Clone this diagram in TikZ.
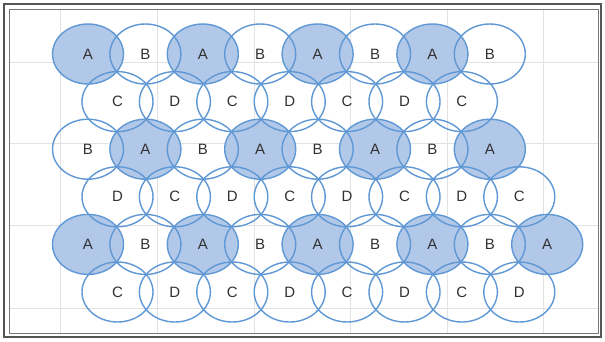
\documentclass[tikz,border=0pt]{standalone}
\usepackage{fontspec}
\setmainfont{Liberation Sans}
\usetikzlibrary{shapes.geometric}
\definecolor{cellline}{RGB}{95,152,212}
\definecolor{cellfill}{RGB}{178,200,232}
\definecolor{gridc}{RGB}{226,226,226}
\definecolor{txt}{RGB}{50,50,50}
\definecolor{frameout}{RGB}{85,85,85}
\definecolor{framein}{RGB}{120,120,120}
\begin{document}
\begin{tikzpicture}[x=1pt,y=-1pt,
  cell/.style={ellipse,draw=cellline,line width=1.4pt,minimum width=71pt,minimum height=60pt,inner sep=0pt,font=\fontsize{15}{15}\selectfont,text=txt},
  bgA/.style={fill=cellfill},
  bgB/.style={},
  bgC/.style={},
  bgD/.style={}]
\useasboundingbox (0,0) rectangle (605,341);
\fill[white] (0,0) rectangle (605,341);
% grid
\foreach \gx in {60,157,254,350,447,543} \draw[gridc,line width=0.8pt] (\gx,9) -- (\gx,333);
\foreach \gy in {62,143,225,308} \draw[gridc,line width=0.8pt] (9,\gy) -- (598,\gy);
% fills
\foreach \r/\xs/\labs in {1/88/{A,B,A,B,A,B,A,B},2/117.5/{C,D,C,D,C,D,C},3/88/{B,A,B,A,B,A,B,A},4/117.5/{D,C,D,C,D,C,D,C},5/88/{A,B,A,B,A,B,A,B,A},6/117.5/{C,D,C,D,C,D,C,D}}{
  \foreach \l [count=\k from 0] in \labs {
    \pgfmathsetmacro{\cx}{\xs+57.4*\k}
    \pgfmathsetmacro{\cy}{54+47.6*(\r-1)}
    \path[bg\l] (\cx,\cy) ellipse [x radius=35.5pt, y radius=30pt];
  }
}
% outlines and labels
\foreach \r/\xs/\labs in {1/88/{A,B,A,B,A,B,A,B},2/117.5/{C,D,C,D,C,D,C},3/88/{B,A,B,A,B,A,B,A},4/117.5/{D,C,D,C,D,C,D,C},5/88/{A,B,A,B,A,B,A,B,A},6/117.5/{C,D,C,D,C,D,C,D}}{
  \foreach \l [count=\k from 0] in \labs {
    \pgfmathsetmacro{\cx}{\xs+57.4*\k}
    \pgfmathsetmacro{\cy}{54+47.6*(\r-1)}
    \node[cell] (n\r-\k) at (\cx,\cy) {\l};
  }
}
% frame
\draw[frameout,line width=2pt] (4,4) rectangle (601,337);
\draw[framein,line width=1pt] (9,9) rectangle (598,333);
\end{tikzpicture}
\end{document}
